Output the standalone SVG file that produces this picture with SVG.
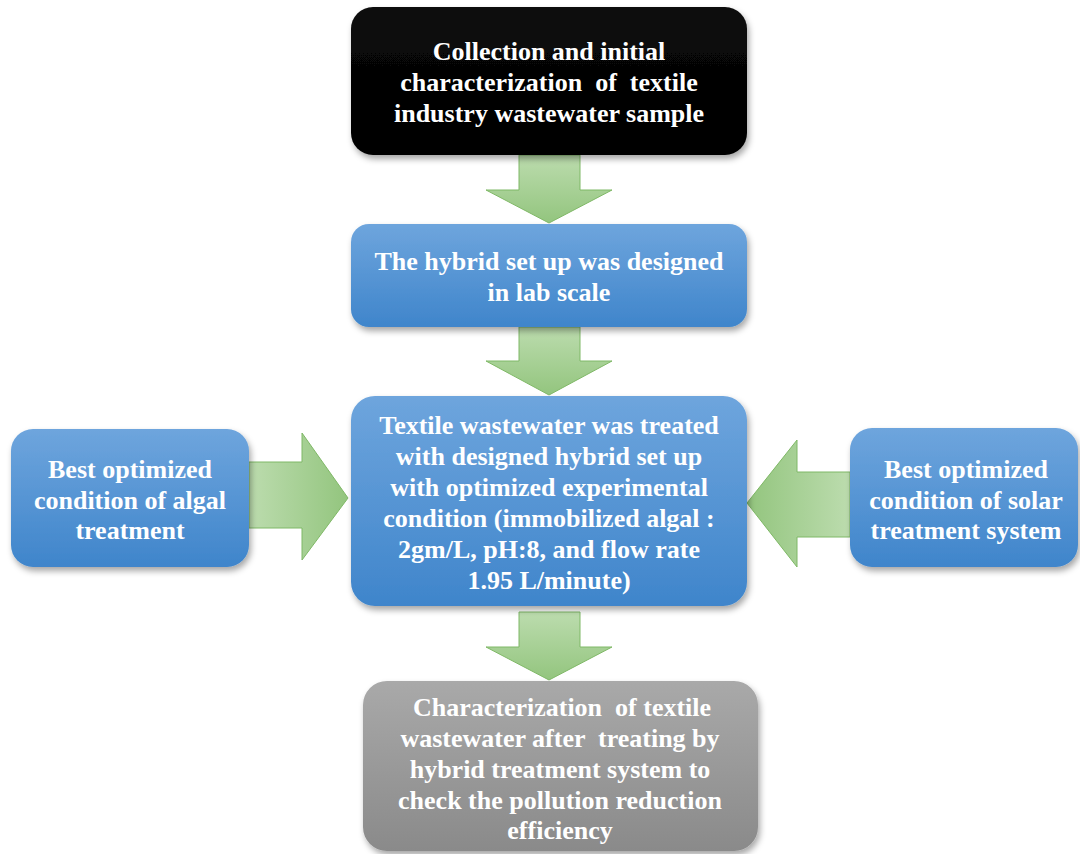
<svg xmlns="http://www.w3.org/2000/svg" width="1080" height="854" viewBox="0 0 1080 854">
  <defs>
    <linearGradient id="gBlue" x1="0" y1="0" x2="0" y2="1">
      <stop offset="0" stop-color="#6ea5dd"/>
      <stop offset="1" stop-color="#3f85cb"/>
    </linearGradient>
    <linearGradient id="gBlack" x1="0" y1="0" x2="0" y2="1">
      <stop offset="0" stop-color="#0a0a0a"/>
      <stop offset="1" stop-color="#000"/>
    </linearGradient>
    <linearGradient id="gGray" x1="0" y1="0" x2="0" y2="1">
      <stop offset="0" stop-color="#a9a9a9"/>
      <stop offset="1" stop-color="#8a8a8a"/>
    </linearGradient>
    <linearGradient id="gDown" x1="0" y1="0" x2="0" y2="1">
      <stop offset="0" stop-color="#bcdcae"/>
      <stop offset="1" stop-color="#93c57e"/>
    </linearGradient>
    <linearGradient id="gRight" x1="0" y1="0" x2="1" y2="0">
      <stop offset="0" stop-color="#bcdcae"/>
      <stop offset="1" stop-color="#93c57e"/>
    </linearGradient>
    <linearGradient id="gLeft" x1="1" y1="0" x2="0" y2="0">
      <stop offset="0" stop-color="#bcdcae"/>
      <stop offset="1" stop-color="#93c57e"/>
    </linearGradient>
    <filter id="shadow" x="-10%" y="-10%" width="125%" height="130%">
      <feDropShadow dx="2" dy="4" stdDeviation="3" flood-color="#000" flood-opacity="0.35"/>
    </filter>
  </defs>
  <style>
    .box { filter: url(#shadow); }
    .lbl { font-family: "Liberation Serif", "Times New Roman", serif; font-weight: bold; font-size: 26px; fill: #ffffff; text-anchor: middle; }
    .arrow { stroke: #7fb866; stroke-width: 1; }
  </style>

  <rect width="1080" height="854" fill="#ffffff"/>

  <!-- connectors: block arrows -->
  <g id="connectors">
    <polygon class="arrow" fill="url(#gDown)" points="519,155 580,155 580,190 612,190 549,223 486,190 519,190"/>
    <polygon class="arrow" fill="url(#gDown)" points="519,327 580,327 580,361 612,361 549,395 486,361 519,361"/>
    <polygon class="arrow" fill="url(#gDown)" points="519,612 580,612 580,647 612,647 549,680 486,647 519,647"/>
    <polygon class="arrow" fill="url(#gRight)" points="249,462 302,462 302,433 348,498 302,560 302,528 249,528"/>
    <polygon class="arrow" fill="url(#gLeft)" points="850,472 797,472 797,440 747,503 797,567 797,537 850,537"/>
  </g>

  <g id="node-collection">
    <rect class="box" x="351" y="7" width="396" height="148" rx="22" fill="url(#gBlack)"/>
    <text class="lbl" x="549" y="60">Collection and initial</text>
    <text class="lbl" x="549" y="91" xml:space="preserve">characterization  of  textile</text>
    <text class="lbl" x="549" y="122">industry wastewater sample</text>
  </g>

  <g id="node-design">
    <rect class="box" x="351" y="224" width="396" height="103" rx="18" fill="url(#gBlue)"/>
    <text class="lbl" x="549" y="270">The hybrid set up was designed</text>
    <text class="lbl" x="549" y="301">in lab scale</text>
  </g>

  <g id="node-treatment">
    <rect class="box" x="351" y="396" width="396" height="210" rx="24" fill="url(#gBlue)"/>
    <text class="lbl" x="549" y="434">Textile wastewater was treated</text>
    <text class="lbl" x="549" y="465">with designed hybrid set up</text>
    <text class="lbl" x="549" y="496">with optimized experimental</text>
    <text class="lbl" x="549" y="527">condition (immobilized algal :</text>
    <text class="lbl" x="549" y="558">2gm/L, pH:8, and flow rate</text>
    <text class="lbl" x="549" y="589">1.95 L/minute)</text>
  </g>

  <g id="node-algal">
    <rect class="box" x="11" y="429" width="238" height="138" rx="22" fill="url(#gBlue)"/>
    <text class="lbl" x="130" y="478">Best optimized</text>
    <text class="lbl" x="130" y="509">condition of algal</text>
    <text class="lbl" x="130" y="539">treatment</text>
  </g>

  <g id="node-solar">
    <rect class="box" x="850" y="428" width="228" height="139" rx="22" fill="url(#gBlue)"/>
    <text class="lbl" x="966" y="478">Best optimized</text>
    <text class="lbl" x="966" y="509">condition of solar</text>
    <text class="lbl" x="966" y="539">treatment system</text>
  </g>

  <g id="node-characterization">
    <rect class="box" x="363" y="681" width="395" height="170" rx="24" fill="url(#gGray)"/>
    <text class="lbl" x="562" y="716" xml:space="preserve">Characterization  of textile</text>
    <text class="lbl" x="560" y="747" xml:space="preserve">wastewater after  treating by</text>
    <text class="lbl" x="560" y="778">hybrid treatment system to</text>
    <text class="lbl" x="560" y="809">check the pollution reduction</text>
    <text class="lbl" x="560" y="839">efficiency</text>
  </g>
</svg>
